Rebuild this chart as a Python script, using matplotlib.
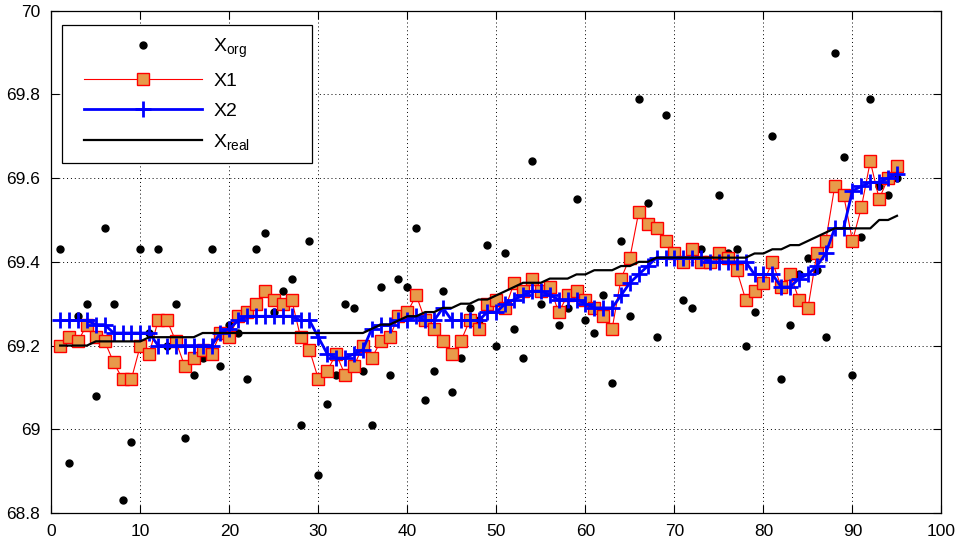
import numpy as np
from matplotlib import pyplot as plt
from matplotlib.patches import Rectangle
from matplotlib.ticker import FormatStrFormatter

plt.rcParams['font.family'] = ['Liberation Sans', 'DejaVu Sans']
plt.rcParams['mathtext.fontset'] = 'custom'
plt.rcParams['mathtext.rm'] = 'Liberation Sans'

steps = np.arange(1, 96)

x_org = [69.43, 68.92, 69.27, 69.30, 69.08, 69.48, 69.30, 68.83, 68.97, 69.43,
         69.23, 69.43, 69.20, 69.30, 68.98, 69.13, 69.17, 69.43, 69.15, 69.25,
         69.23, 69.12, 69.43, 69.47, 69.28, 69.33, 69.36, 69.01, 69.45, 68.89,
         69.06, 69.13, 69.30, 69.29, 69.14, 69.01, 69.34, 69.13, 69.36, 69.34,
         69.48, 69.07, 69.14, 69.33, 69.09, 69.17, 69.29, 69.26, 69.44, 69.20,
         69.42, 69.24, 69.17, 69.64, 69.30, 69.34, 69.25, 69.29, 69.55, 69.26,
         69.23, 69.32, 69.11, 69.45, 69.27, 69.79, 69.54, 69.22, 69.75, 69.42,
         69.31, 69.29, 69.43, 69.40, 69.56, 69.42, 69.43, 69.20, 69.28, 69.35,
         69.70, 69.12, 69.25, 69.37, 69.41, 69.38, 69.22, 69.90, 69.65, 69.13,
         69.46, 69.79, 69.58, 69.56, 69.60]

x1 = [69.20, 69.22, 69.21, 69.25, 69.22, 69.21, 69.16, 69.12, 69.12, 69.20,
      69.18, 69.26, 69.26, 69.21, 69.15, 69.17, 69.19, 69.18, 69.23, 69.22,
      69.27, 69.28, 69.30, 69.33, 69.31, 69.30, 69.31, 69.22, 69.19, 69.12,
      69.14, 69.18, 69.13, 69.15, 69.20, 69.17, 69.21, 69.22, 69.27, 69.28,
      69.32, 69.26, 69.24, 69.21, 69.18, 69.21, 69.26, 69.24, 69.30, 69.31,
      69.29, 69.35, 69.33, 69.36, 69.33, 69.34, 69.28, 69.32, 69.33, 69.31,
      69.29, 69.27, 69.24, 69.36, 69.41, 69.52, 69.49, 69.48, 69.45, 69.42,
      69.40, 69.43, 69.40, 69.40, 69.42, 69.41, 69.38, 69.31, 69.33, 69.35,
      69.40, 69.34, 69.37, 69.31, 69.29, 69.42, 69.45, 69.58, 69.56, 69.45,
      69.53, 69.64, 69.55, 69.60, 69.63]

x2 = [69.26, 69.26, 69.26, 69.26, 69.25, 69.25, 69.23, 69.23, 69.23, 69.23,
      69.23, 69.20, 69.20, 69.20, 69.20, 69.20, 69.20, 69.20, 69.23, 69.24,
      69.26, 69.27, 69.27, 69.27, 69.27, 69.27, 69.27, 69.26, 69.26, 69.22,
      69.18, 69.17, 69.17, 69.18, 69.19, 69.24, 69.25, 69.25, 69.26, 69.26,
      69.27, 69.26, 69.26, 69.29, 69.26, 69.26, 69.26, 69.26, 69.28, 69.28,
      69.30, 69.31, 69.32, 69.33, 69.33, 69.32, 69.31, 69.31, 69.31, 69.30,
      69.29, 69.29, 69.29, 69.32, 69.35, 69.37, 69.39, 69.41, 69.41, 69.41,
      69.41, 69.41, 69.41, 69.40, 69.40, 69.40, 69.40, 69.40, 69.37, 69.37,
      69.37, 69.34, 69.34, 69.36, 69.37, 69.39, 69.42, 69.48, 69.48, 69.57,
      69.58, 69.59, 69.59, 69.60, 69.61]

x_real = [69.20, 69.20, 69.20, 69.20, 69.21, 69.21, 69.21, 69.21, 69.21, 69.21,
          69.22, 69.22, 69.22, 69.22, 69.22, 69.22, 69.23, 69.23, 69.23, 69.23,
          69.23, 69.23, 69.23, 69.23, 69.23, 69.23, 69.23, 69.23, 69.23, 69.23,
          69.23, 69.23, 69.23, 69.23, 69.23, 69.24, 69.25, 69.25, 69.26, 69.27,
          69.27, 69.28, 69.28, 69.29, 69.29, 69.30, 69.30, 69.31, 69.31, 69.32,
          69.33, 69.34, 69.35, 69.35, 69.35, 69.36, 69.36, 69.36, 69.37, 69.37,
          69.38, 69.38, 69.38, 69.39, 69.39, 69.40, 69.40, 69.41, 69.41, 69.41,
          69.41, 69.41, 69.41, 69.41, 69.41, 69.41, 69.41, 69.41, 69.42, 69.42,
          69.43, 69.43, 69.44, 69.44, 69.45, 69.46, 69.47, 69.48, 69.48, 69.48,
          69.48, 69.48, 69.50, 69.50, 69.51]

fig = plt.figure(figsize=(9.57, 5.4), dpi=100)
ax = fig.add_axes([0.0536, 0.05, 0.9302, 0.9302])

ax.plot(steps, x_org, 'o', color='black', markersize=5, linestyle='none', label=r'$\mathrm{X_{org}}$')
ax.plot(steps, x1, '-s', color='red', linewidth=0.8, markersize=8,
        markerfacecolor='#E89A4A', markeredgecolor='red', markeredgewidth=1.0, label='X1')
ax.plot(steps, x2, '-+', color='blue', linewidth=2, markersize=11, markeredgewidth=2, label='X2')
ax.plot(steps, x_real, '-', color='black', linewidth=1.6, label=r'$\mathrm{X_{real}}$')

ax.set_xlim(0, 100)
ax.set_ylim(68.8, 70)
ax.set_xticks(np.arange(0, 101, 10))
ax.set_yticks([68.8, 69, 69.2, 69.4, 69.6, 69.8, 70])
ax.yaxis.set_major_formatter(FormatStrFormatter('%g'))
ax.tick_params(direction='in', top=True, right=True, length=6, labelsize=12.5, pad=8)
ax.grid(True, color='black', linestyle=(0, (1, 3)), linewidth=0.7)
for s in ax.spines.values():
    s.set_linewidth(0.9)

# legend box drawn separately (MATLAB style, wide padding)
box = Rectangle((0.0117, 0.697), 0.281, 0.2745, transform=ax.transAxes,
                facecolor='white', edgecolor='black', linewidth=0.9, zorder=4.9)
ax.add_patch(box)
leg = ax.legend(loc='upper left', bbox_to_anchor=(0.0367, 0.949),
                borderaxespad=0, borderpad=0, fontsize=14, handlelength=6.07,
                handletextpad=0.57, labelspacing=0.64, frameon=False)

fig.savefig('out.png', dpi=100)
